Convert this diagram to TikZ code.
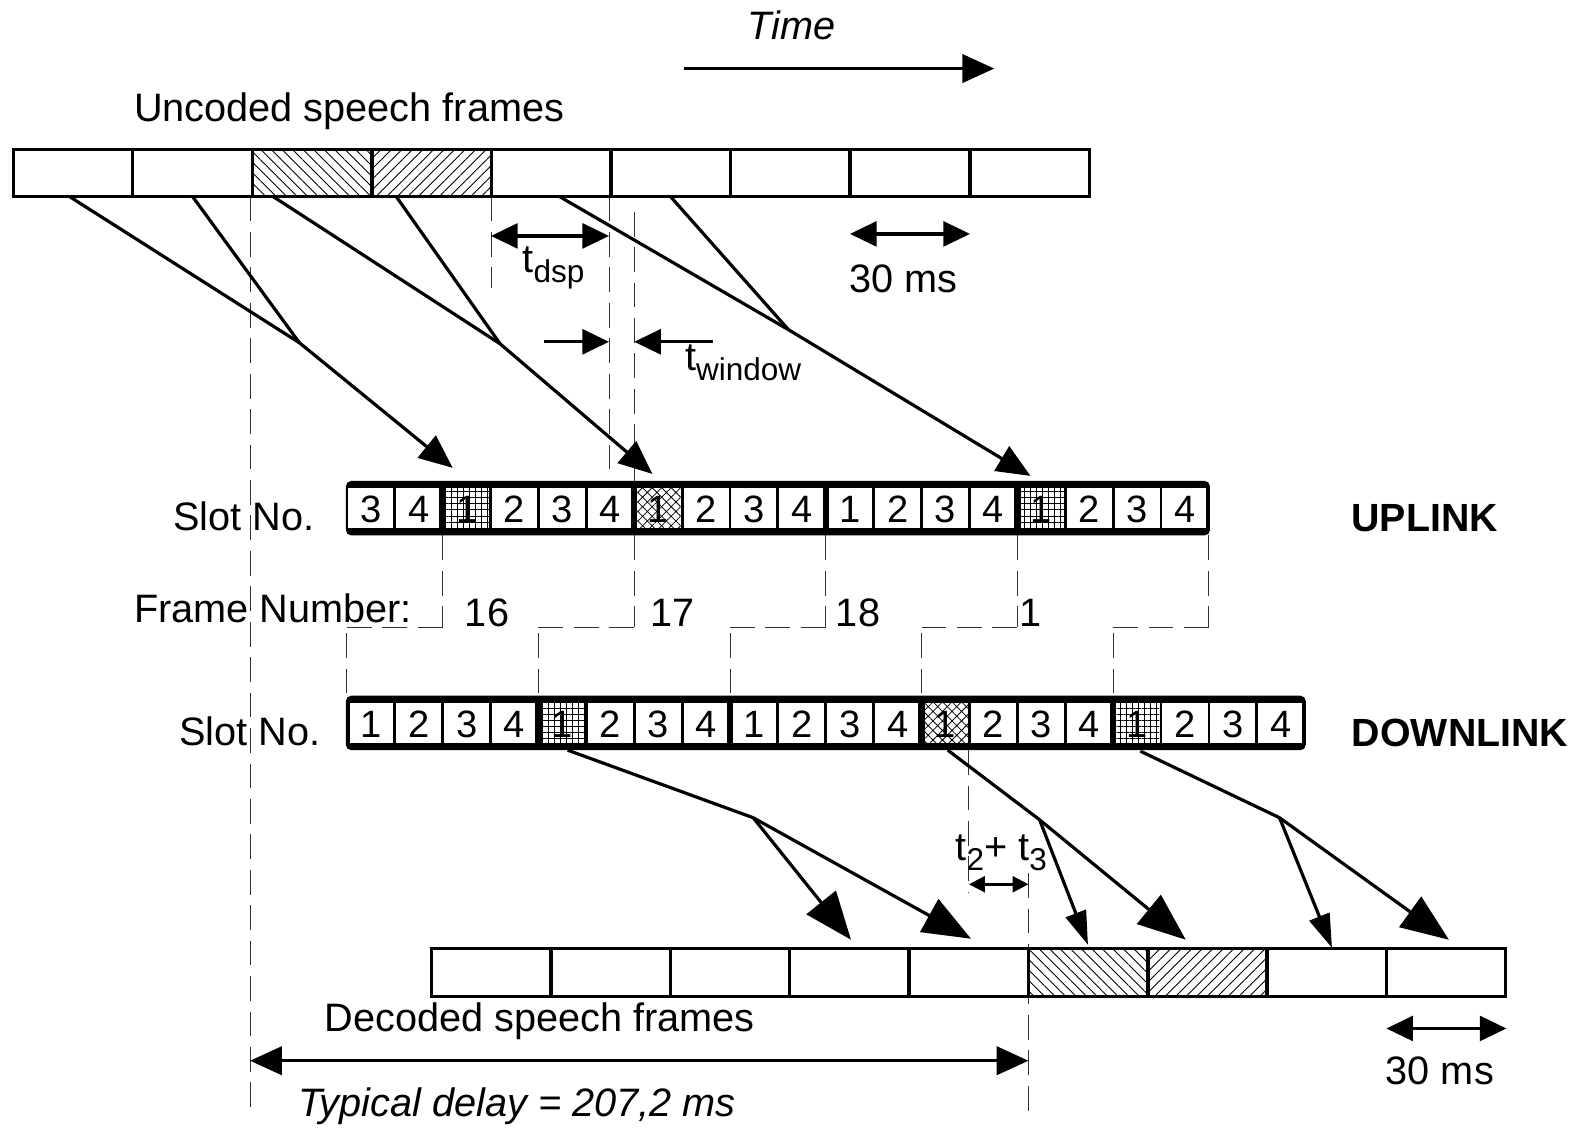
\documentclass[tikz,border=0pt]{standalone}
\usepackage{fontspec}
\setmainfont{Liberation Sans}
\usetikzlibrary{arrows.meta,patterns.meta}
\newcommand\lowtext[1]{\raisebox{-5.5pt}{\fontsize{17.8}{20}\selectfont #1}}
\begin{document}
\begin{tikzpicture}[x=0.02cm,y=-0.02cm,
  lbl/.style={inner sep=0pt,outer sep=0pt,font=\fontsize{22.4}{26}\selectfont},
  boldlbl/.style={lbl,font=\fontsize{22.2}{26}\selectfont\bfseries},
  slotnum/.style={inner sep=0pt,font=\fontsize{21.5}{24}\selectfont},
  frm/.style={draw,line width=1.7pt,inner sep=0pt,outer sep=0pt,minimum width=67.24pt,minimum height=26.65pt},
  nwfill/.style={pattern={Lines[angle=-45,distance=4.2pt,line width=0.5pt]}},
  nefill/.style={pattern={Lines[angle=45,distance=4.2pt,line width=0.5pt]}},
  gridfill/.style={pattern={Hatch[angle=0,distance=3.4pt,line width=0.45pt]}},
  crossfill/.style={pattern={Hatch[angle=45,distance=3.8pt,line width=0.45pt]}},
  conn/.style={line width=1.8pt},
  guide/.style={line width=0.55pt,black!80,dash pattern=on 14pt off 6pt},
  headM/.style={-{Triangle[length=19pt,width=16pt]}},
  headL/.style={-{Triangle[length=27pt,width=21pt]}},
  headS/.style={-{Triangle[length=19pt,width=12pt]}},
  dimarrow/.style={line width=1.8pt,{Triangle[length=15pt,width=14pt]}-{Triangle[length=15pt,width=14pt]}},
  halfarrow/.style={line width=1.8pt,-{Triangle[length=15pt,width=14pt]}},
]
\useasboundingbox (0,0) rectangle (1568,1121);

% ---------- guide lines (dashed) ----------
\draw[guide] (248,195) -- (248,1102);
\draw[guide] (487,195) -- (487,286);
\draw[guide] (604,195) -- (604,476);
\draw[guide] (629,210) -- (629,478);
\foreach \x in {439,629,819,1009,1199} \draw[guide] (\x,531) -- (\x,622);
\foreach \x in {344,534,724,914,1104} \draw[guide] (\x,622) -- ({\x+95},622);
\foreach \x in {344,534,724,914,1104} \draw[guide] (\x,628) -- (\x,690);
\draw[guide] (961,744) -- (961,886);
\draw[guide] (1020,866) -- (1020,1106);

% ---------- time axis ----------
\node[lbl] (time) at (785,25) {\itshape Time};
\coordinate (timeA) at (678,68);
\coordinate (timeB) at (986,68);
\draw[conn,-{Triangle[length=18pt,width=16pt]}] (timeA) -- (timeB);

% ---------- uncoded speech frames ----------
\node[lbl,anchor=west] (uncoded) at (133,110) {Uncoded speech frames};
\foreach \i/\s in {0/,1/,2/nwfill,3/nefill,4/,5/,6/,7/,8/}
  \node[frm,\s] (up\i) at ({13+118.6*(\i+0.5)},171.5) {};

\coordinate (dspL) at (487,234);
\coordinate (dspR) at (604,234);
\draw[dimarrow] (dspL) -- (dspR);
\node[lbl] (tdsp) at (549,266) {t\lowtext{dsp}};

\coordinate (msL) at (843,232);
\coordinate (msR) at (962,232);
\draw[dimarrow] (msL) -- (msR);
\node[lbl] (ms1) at (896,277) {30 ms};

\coordinate (winA) at (540,339);
\coordinate (winB) at (604,339);
\coordinate (winC) at (707,339);
\coordinate (winD) at (629,339);
\draw[halfarrow] (winA) -- (winB);
\draw[halfarrow] (winC) -- (winD);
\node[lbl] (twin) at (737,360) {t\lowtext{window}};

% ---------- encoder connectors to uplink ----------
\coordinate (a1) at (69,195);
\coordinate (a2) at (191,195);
\coordinate (a3) at (271,195);
\coordinate (a4) at (393,195);
\coordinate (a5) at (555,195);
\coordinate (a6) at (665,195);
\coordinate (j1) at (297,340);
\coordinate (j2) at (496,341);
\coordinate (j3) at (782,327);
\coordinate (u1) at (449,464);
\coordinate (u2) at (647,470);
\coordinate (u3) at (1022,472);
\draw[conn] (a1) -- (j1);
\draw[conn] (a2) -- (j1);
\draw[conn,headM] (j1) -- (u1);
\draw[conn] (a3) -- (j2);
\draw[conn] (a4) -- (j2);
\draw[conn,headM] (j2) -- (u2);
\draw[conn] (a5) -- (j3);
\draw[conn] (a6) -- (j3);
\draw[conn,headM] (j3) -- (u3);

% ---------- uplink slots ----------
\node[lbl,anchor=west] (ulslot) at (172,512) {Slot No.};
\fill[rounded corners=3] (343,477) rectangle (1200,531);
\foreach \k in {0,...,17}{
  \pgfmathtruncatemacro\n{mod(\k+2,4)+1}
  \pgfmathsetmacro\xa{344+47.5*\k+ifthenelse(\n==1,3.2,1.4)}
  \pgfmathsetmacro\xb{344+47.5*(\k+1)-ifthenelse(\n==4,3.2,1.4)}
  \fill[white] (\xa,484) rectangle (\xb,524);
}
\foreach \k/\s in {2/gridfill,6/crossfill,14/gridfill}
  \fill[\s] ({344+47.5*\k+3.2},484) rectangle ({344+47.5*(\k+1)-1.4},524);
\foreach \k in {0,...,17}{
  \pgfmathtruncatemacro\n{mod(\k+2,4)+1}
  \node[slotnum] (ul\k) at ({344+47.5*(\k+0.5)},505) {\n};
}
\node[boldlbl] (uplink) at (1413,514) {UPLINK};

% ---------- frame numbers ----------
\node[lbl,anchor=west] (fnum) at (133,603) {Frame Number:};
\node[lbl] (f16) at (483,608) {16};
\node[lbl] (f17) at (667,608) {17};
\node[lbl] (f18) at (851,608) {18};
\node[lbl] (f1) at (1022,608) {1};

% ---------- downlink slots ----------
\node[lbl,anchor=west] (dlslot) at (178,725) {Slot No.};
\fill[rounded corners=3] (343,690) rectangle (1295,744);
\foreach \k in {0,...,19}{
  \pgfmathtruncatemacro\n{mod(\k,4)+1}
  \pgfmathsetmacro\xa{344+47.5*\k+ifthenelse(\n==1,3.2,1.4)}
  \pgfmathsetmacro\xb{344+47.5*(\k+1)-ifthenelse(\n==4,3.2,1.4)}
  \fill[white] (\xa,697) rectangle (\xb,737);
}
\foreach \k/\s in {4/gridfill,12/crossfill,16/gridfill}
  \fill[\s] ({344+47.5*\k+3.2},697) rectangle ({344+47.5*(\k+1)-1.4},737);
\foreach \k in {0,...,19}{
  \pgfmathtruncatemacro\n{mod(\k,4)+1}
  \node[slotnum] (dl\k) at ({344+47.5*(\k+0.5)},718) {\n};
}
\node[boldlbl] (downlink) at (1448,727) {DOWNLINK};

% ---------- downlink to decoder connectors ----------
\coordinate (b1) at (563,744);
\coordinate (k1) at (747,811);
\coordinate (d1) at (844,932);
\coordinate (d2) at (963,931);
\coordinate (b2) at (940,744);
\coordinate (k2) at (1031,813);
\coordinate (d3) at (1079,937);
\coordinate (d4) at (1176,932);
\coordinate (b3) at (1131,745);
\coordinate (k3) at (1269,811);
\coordinate (d5) at (1321,940);
\coordinate (d6) at (1437,932);
\draw[conn] (b1) -- (k1);
\draw[conn,headL] (k1) -- (d1);
\draw[conn,headL] (k1) -- (d2);
\draw[conn] (b2) -- (k2);
\draw[conn,headS] (k2) -- (d3);
\draw[conn,headL] (k2) -- (d4);
\draw[conn] (b3) -- (k3);
\draw[conn,headS] (k3) -- (d5);
\draw[conn,headL] (k3) -- (d6);

\coordinate (tsL) at (961,877);
\coordinate (tsR) at (1020,877);
\draw[line width=1.5pt,{Triangle[length=9pt,width=9pt]}-{Triangle[length=9pt,width=9pt]}] (tsL) -- (tsR);
\node[lbl] (t23) at (993,846) {t\lowtext{2}+ t\lowtext{3}};

% ---------- decoded speech frames ----------
\foreach \i/\s in {0/,1/,2/,3/,4/,5/nwfill,6/nefill,7/,8/}
  \node[frm,minimum width=67.12pt,\s] (dn\i) at ({428+118.4*(\i+0.5)},964.5) {};
\node[lbl,anchor=west] (decoded) at (322,1013) {Decoded speech frames};

\coordinate (ms2L) at (1375,1020);
\coordinate (ms2R) at (1494,1020);
\draw[dimarrow] (ms2L) -- (ms2R);
\node[lbl] (ms2) at (1428,1062) {30 ms};

% ---------- overall delay ----------
\coordinate (delL) at (248,1052);
\coordinate (delR) at (1020,1052);
\draw[line width=1.8pt,{Triangle[length=18pt,width=16pt]}-{Triangle[length=18pt,width=16pt]}] (delL) -- (delR);
\node[lbl,anchor=west] (delay) at (296,1097) {\itshape Typical delay = 207,2 ms};
\end{tikzpicture}
\end{document}
